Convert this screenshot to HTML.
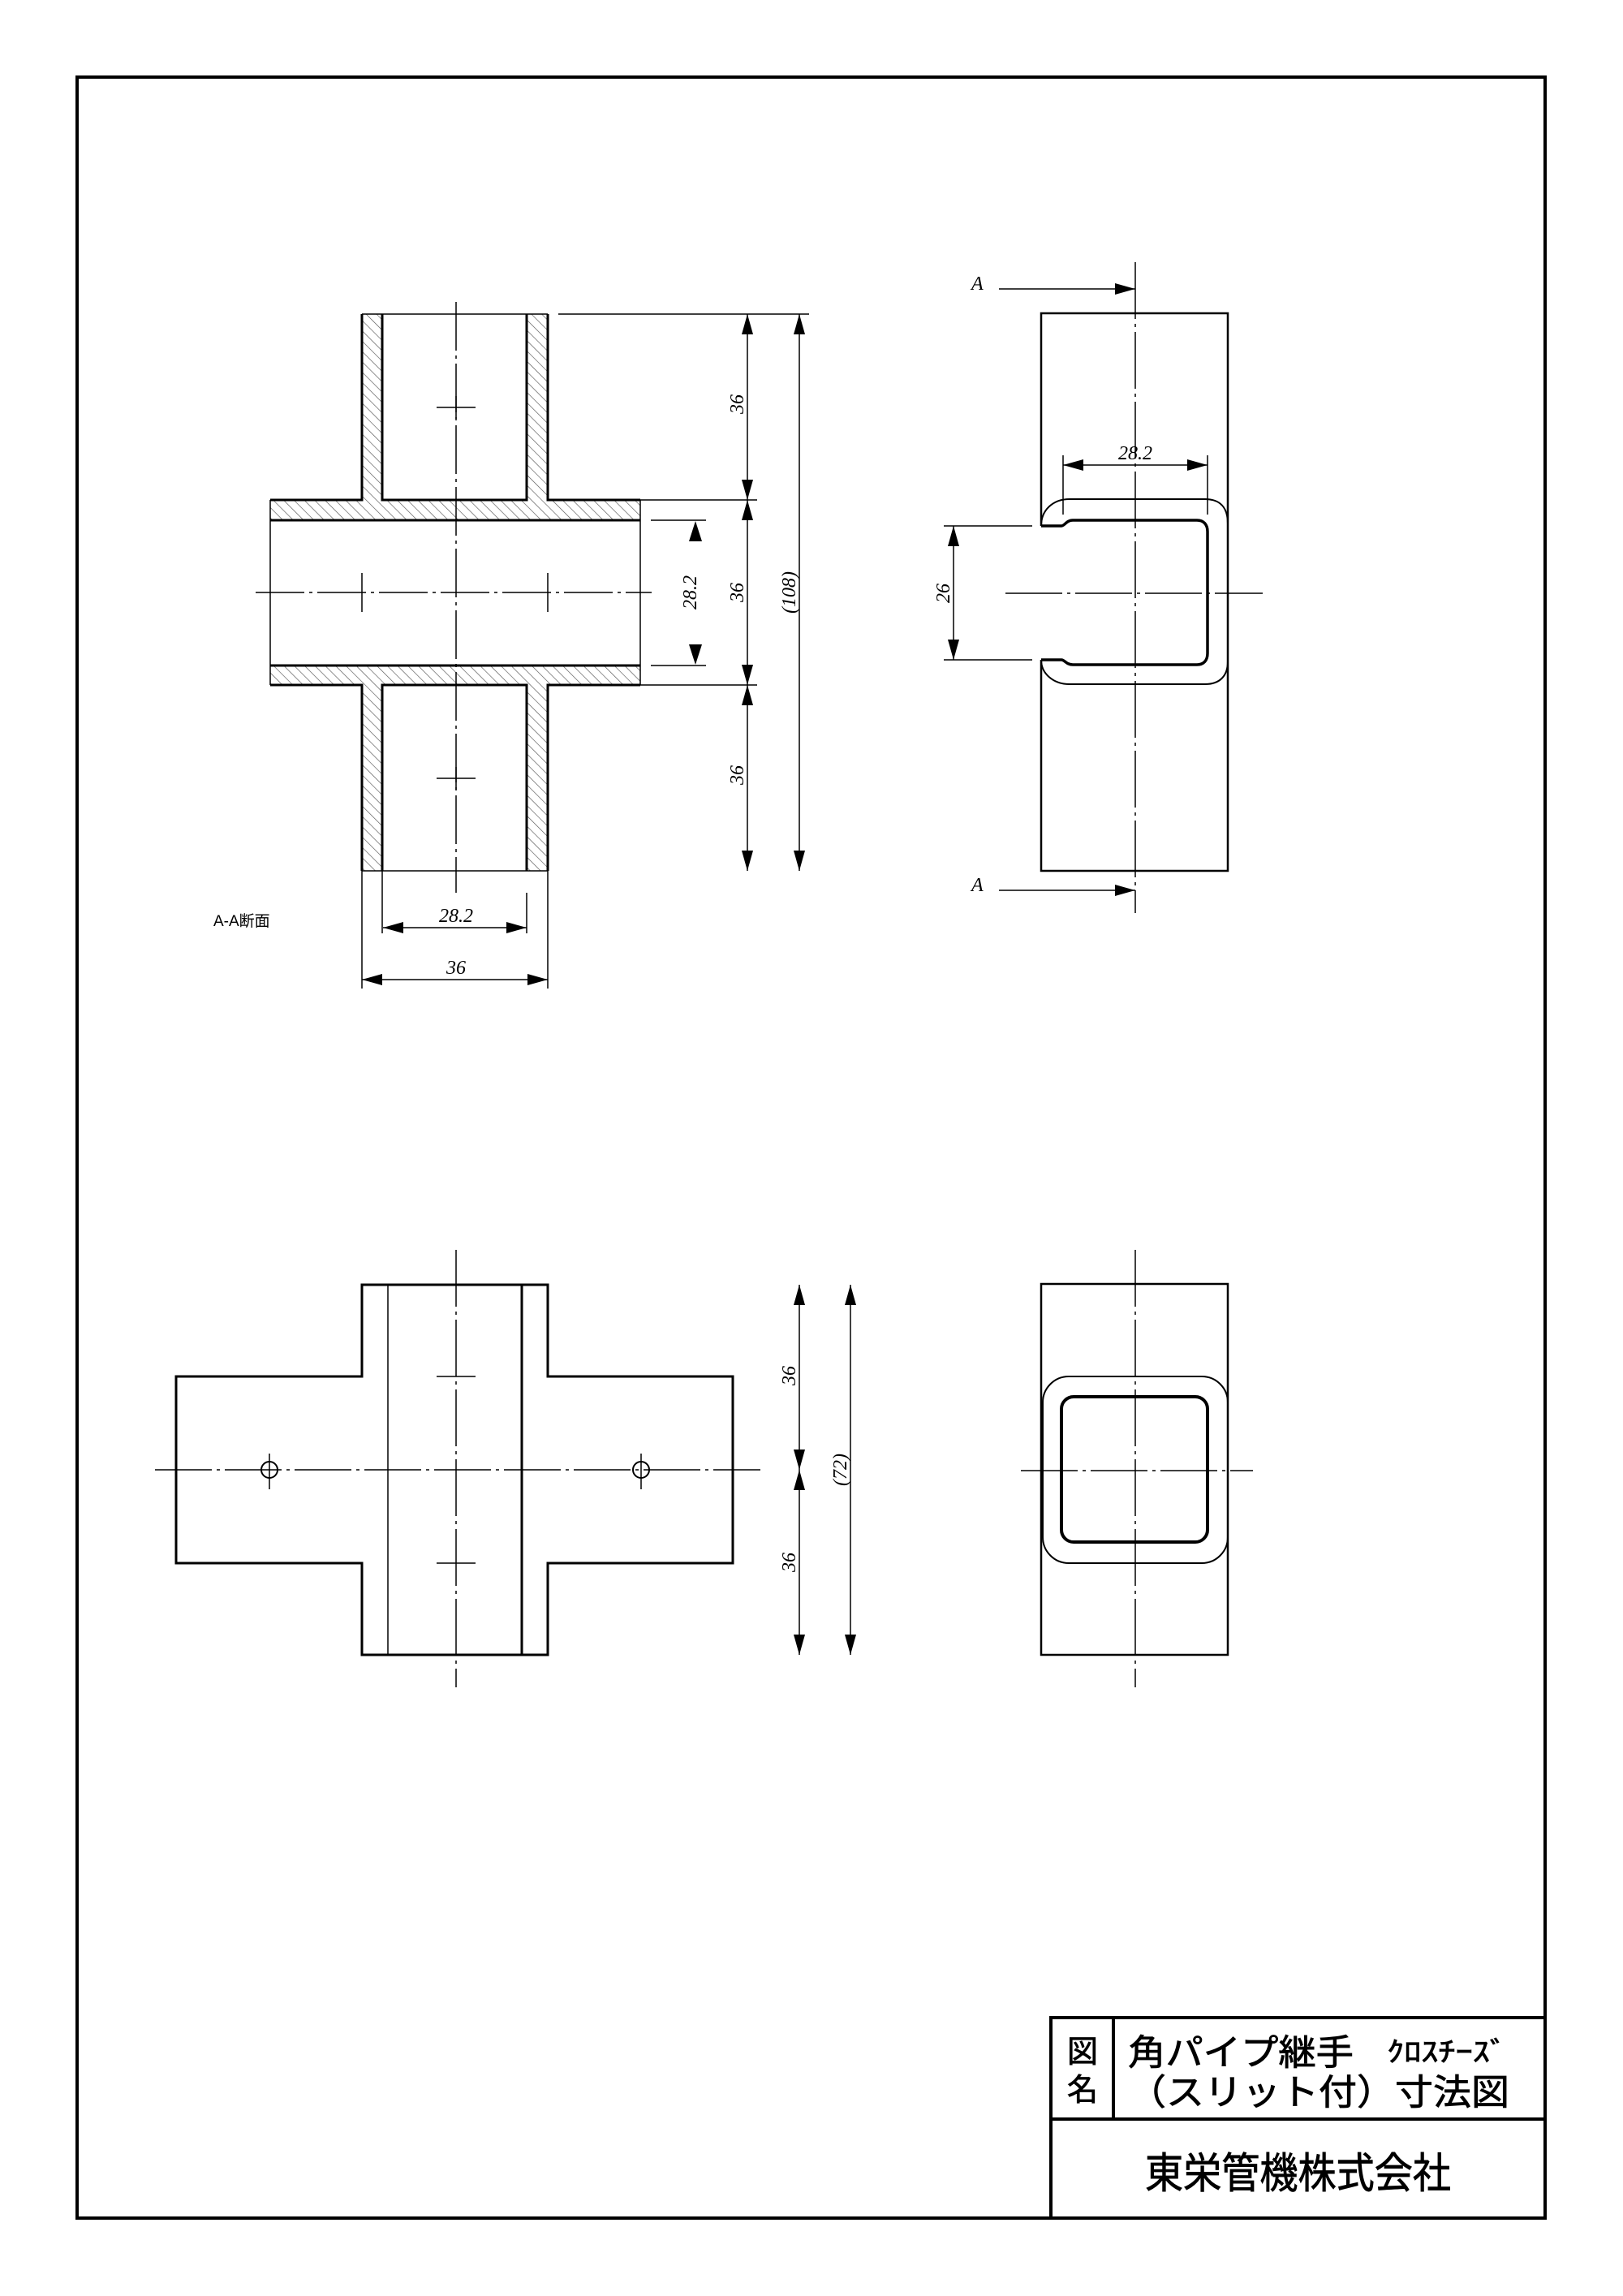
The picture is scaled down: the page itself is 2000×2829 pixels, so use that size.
<!DOCTYPE html>
<html><head><meta charset="utf-8">
<style>
html,body{margin:0;padding:0;background:#fff;}
svg{display:block;}
.dim{font-family:"Liberation Serif",serif;font-style:italic;font-size:24px;fill:#000;}
.jp{font-family:"Liberation Sans","Noto Sans CJK JP",sans-serif;fill:#000;}
.tb{stroke:#000;stroke-width:0.8px;}
</style></head>
<body>
<svg width="2000" height="2829" viewBox="0 0 2000 2829" xmlns="http://www.w3.org/2000/svg">
<defs>
<pattern id="h" patternUnits="userSpaceOnUse" width="9" height="9" patternTransform="rotate(-45)">
<rect width="9" height="9" fill="#fff"/>
<line x1="0" y1="0" x2="0" y2="9" stroke="#555" stroke-width="1.3"/>
</pattern>
<marker id="ae" markerWidth="25" markerHeight="14" refX="25" refY="7" orient="auto" markerUnits="userSpaceOnUse">
<path d="M0,0 L25,7 L0,14 Z" fill="#000"/></marker>
<marker id="as" markerWidth="25" markerHeight="14" refX="0" refY="7" orient="auto" markerUnits="userSpaceOnUse">
<path d="M25,0 L0,7 L25,14 Z" fill="#000"/></marker>
</defs>

<rect x="95" y="95" width="1809" height="2638" fill="none" stroke="#000" stroke-width="4"/>

<!-- A-A section -->
<path d="M446,387 H675 V616 H789 V844 H675 V1073 H446 V844 H333 V616 H446 Z" fill="url(#h)" stroke="none"/>
<rect x="471" y="387" width="178" height="229" fill="#fff"/>
<rect x="333" y="641" width="456" height="179" fill="#fff"/>
<rect x="471" y="844" width="178" height="229" fill="#fff"/>
<g fill="none" stroke="#000" stroke-width="3">
<path d="M446,387 V616 H333"/><path d="M675,387 V616 H789"/>
<path d="M446,1073 V844 H333"/><path d="M675,1073 V844 H789"/>
<path d="M471,387 V616 H649 V387"/>
<path d="M471,1073 V844 H649 V1073"/>
<line x1="333" y1="641" x2="789" y2="641"/><line x1="333" y1="820" x2="789" y2="820"/>
</g>
<g stroke="#000" stroke-width="1.5" fill="none">
<line x1="446" y1="387" x2="675" y2="387"/>
<line x1="446" y1="1073" x2="675" y2="1073"/>
<line x1="333" y1="616" x2="333" y2="844"/>
<line x1="789" y1="616" x2="789" y2="844"/>
<line x1="471" y1="1073" x2="471" y2="1150"/>
<line x1="675" y1="1073" x2="675" y2="1218"/>
<line x1="649" y1="1100" x2="649" y2="1150"/>
<line x1="446" y1="1073" x2="446" y2="1218"/>
<line x1="562" y1="372" x2="562" y2="1100" stroke-dasharray="60,6,4,6"/>
<line x1="315" y1="730" x2="803" y2="730" stroke-dasharray="60,6,4,6"/>
<line x1="538" y1="502" x2="586" y2="502"/><line x1="562" y1="488" x2="562" y2="516"/>
<line x1="538" y1="959" x2="586" y2="959"/><line x1="562" y1="945" x2="562" y2="973"/>
<line x1="446" y1="706" x2="446" y2="754"/><line x1="675" y1="706" x2="675" y2="754"/>
<line x1="688" y1="387" x2="997" y2="387"/>
<line x1="789" y1="616" x2="933" y2="616"/>
<line x1="789" y1="844" x2="933" y2="844"/>
<line x1="802" y1="641" x2="870" y2="641"/>
<line x1="802" y1="820" x2="870" y2="820"/>
<line x1="921" y1="387" x2="921" y2="616" marker-start="url(#as)" marker-end="url(#ae)"/>
<line x1="921" y1="616" x2="921" y2="844" marker-start="url(#as)" marker-end="url(#ae)"/>
<line x1="921" y1="844" x2="921" y2="1073" marker-start="url(#as)" marker-end="url(#ae)"/>
<line x1="985" y1="387" x2="985" y2="1073" marker-start="url(#as)" marker-end="url(#ae)"/>
<line x1="472" y1="1143" x2="649" y2="1143" marker-start="url(#as)" marker-end="url(#ae)"/>
<line x1="446" y1="1207" x2="675" y2="1207" marker-start="url(#as)" marker-end="url(#ae)"/>
</g>
<path d="M849,667 L865,667 L857,642 Z" fill="#000"/>
<path d="M849,794 L865,794 L857,819 Z" fill="#000"/>
<text class="dim" transform="translate(858,730) rotate(-90)" text-anchor="middle">28.2</text>
<text class="dim" transform="translate(916,498) rotate(-90)" text-anchor="middle">36</text>
<text class="dim" transform="translate(916,730) rotate(-90)" text-anchor="middle">36</text>
<text class="dim" transform="translate(916,955) rotate(-90)" text-anchor="middle">36</text>
<text class="dim" transform="translate(980,730) rotate(-90)" text-anchor="middle">(108)</text>
<text class="dim" x="562" y="1136" text-anchor="middle">28.2</text>
<text class="dim" x="562" y="1200" text-anchor="middle">36</text>
<text class="jp" x="263" y="1141" font-size="19">A-A断面</text>

<!-- side view -->
<g fill="none" stroke="#000">
<path d="M1283,648 V386 H1513 V1073 H1283 V813" stroke-width="2.5"/>
<path d="M1283,648 C1283,628 1298,615 1318,615 H1485 C1503,615 1513,625 1513,645 V815 C1513,833 1503,843 1485,843 H1318 C1298,843 1283,830 1283,813" stroke-width="2"/>
<path d="M1283,648 H1308 C1312,648 1314,641 1322,641 H1475 C1483,641 1488,646 1488,655 V805 C1488,814 1483,819 1475,819 H1322 C1314,819 1312,813 1308,813 H1283" stroke-width="3.5"/>
<line x1="1399" y1="323" x2="1399" y2="1125" stroke-width="1.5" stroke-dasharray="70,6,4,6"/>
<line x1="1239" y1="731" x2="1556" y2="731" stroke-width="1.5" stroke-dasharray="70,6,4,6"/>
<line x1="1310" y1="561" x2="1310" y2="634" stroke-width="1.5"/>
<line x1="1488" y1="561" x2="1488" y2="634" stroke-width="1.5"/>
<line x1="1310" y1="573" x2="1488" y2="573" stroke-width="1.5" marker-start="url(#as)" marker-end="url(#ae)"/>
<line x1="1163" y1="648" x2="1272" y2="648" stroke-width="1.5"/>
<line x1="1163" y1="813" x2="1272" y2="813" stroke-width="1.5"/>
<line x1="1175" y1="648" x2="1175" y2="813" stroke-width="1.5" marker-start="url(#as)" marker-end="url(#ae)"/>
<line x1="1231" y1="356" x2="1399" y2="356" stroke-width="1.5" marker-end="url(#ae)"/>
<line x1="1231" y1="1097" x2="1399" y2="1097" stroke-width="1.5" marker-end="url(#ae)"/>
</g>
<text class="dim" x="1399" y="566" text-anchor="middle">28.2</text>
<text class="dim" transform="translate(1170,731) rotate(-90)" text-anchor="middle">26</text>
<text class="dim" x="1197" y="357" font-size="20">A</text>
<text class="dim" x="1197" y="1098" font-size="20">A</text>

<!-- plan view -->
<g fill="none" stroke="#000">
<path d="M446,1583 H675 V1696 H903 V1926 H675 V2039 H446 V1926 H217 V1696 H446 Z" stroke-width="3"/>
<line x1="478" y1="1583" x2="478" y2="2039" stroke-width="1.5"/>
<line x1="643" y1="1583" x2="643" y2="2039" stroke-width="3"/>
<line x1="562" y1="1540" x2="562" y2="2079" stroke-width="1.5" stroke-dasharray="70,6,4,6"/>
<line x1="191" y1="1811" x2="937" y2="1811" stroke-width="1.5" stroke-dasharray="70,6,4,6"/>
<circle cx="332" cy="1811" r="10" stroke-width="2"/>
<circle cx="790" cy="1811" r="10" stroke-width="2"/>
<line x1="332" y1="1791" x2="332" y2="1835" stroke-width="1.5"/>
<line x1="790" y1="1791" x2="790" y2="1835" stroke-width="1.5"/>
<line x1="538" y1="1696" x2="586" y2="1696" stroke-width="1.5"/>
<line x1="538" y1="1926" x2="586" y2="1926" stroke-width="1.5"/>
<line x1="985" y1="1583" x2="985" y2="1811" stroke-width="1.5" marker-start="url(#as)" marker-end="url(#ae)"/>
<line x1="985" y1="1811" x2="985" y2="2039" stroke-width="1.5" marker-start="url(#as)" marker-end="url(#ae)"/>
<line x1="1048" y1="1583" x2="1048" y2="2039" stroke-width="1.5" marker-start="url(#as)" marker-end="url(#ae)"/>
</g>
<text class="dim" transform="translate(980,1695) rotate(-90)" text-anchor="middle">36</text>
<text class="dim" transform="translate(980,1925) rotate(-90)" text-anchor="middle">36</text>
<text class="dim" transform="translate(1043,1811) rotate(-90)" text-anchor="middle">(72)</text>

<!-- end view -->
<g fill="none" stroke="#000">
<path d="M1283,2039 V1582 H1513 V2039 Z" stroke-width="2.5"/>
<rect x="1285" y="1696" width="228" height="230" rx="32" stroke-width="2"/>
<rect x="1308" y="1721" width="180" height="179" rx="15" stroke-width="4"/>
<line x1="1399" y1="1540" x2="1399" y2="2079" stroke-width="1.5" stroke-dasharray="70,6,4,6"/>
<line x1="1258" y1="1812" x2="1544" y2="1812" stroke-width="1.5" stroke-dasharray="70,6,4,6"/>
</g>

<!-- title block -->
<g fill="none" stroke="#000" stroke-width="4">
<rect x="1295" y="2486" width="609" height="247"/>
<line x1="1295" y1="2611" x2="1904" y2="2611"/>
<line x1="1372" y1="2486" x2="1372" y2="2611"/>
</g>
<text class="jp tb" x="1334" y="2541" font-size="38" text-anchor="middle">図</text>
<text class="jp tb" x="1334" y="2588" font-size="38" text-anchor="middle">名</text>
<text class="jp tb" x="1390" y="2544" font-size="44" textLength="278" lengthAdjust="spacingAndGlyphs">角パイプ継手</text>
<text class="jp tb" x="1709" y="2540" font-size="34" textLength="148" lengthAdjust="spacingAndGlyphs">ｸﾛｽﾁｰｽﾞ</text>
<text class="jp tb" x="1390" y="2593" font-size="44" textLength="470" lengthAdjust="spacingAndGlyphs">（スリット付）寸法図</text>
<text class="jp tb" x="1411" y="2696" font-size="52" textLength="377" lengthAdjust="spacingAndGlyphs">東栄管機株式会社</text>
</svg>
</body></html>
